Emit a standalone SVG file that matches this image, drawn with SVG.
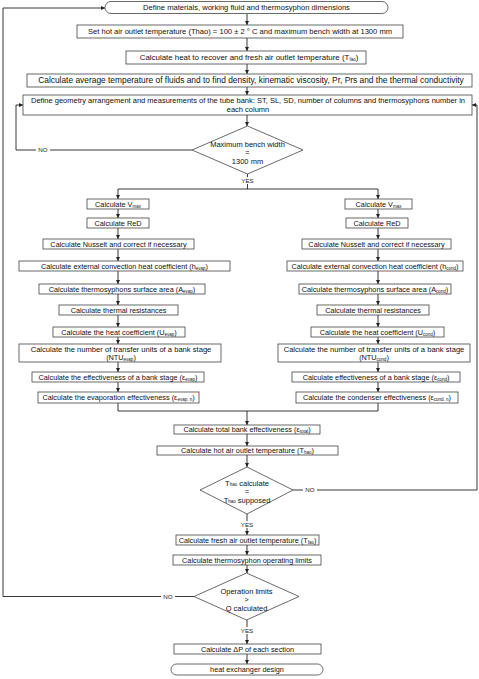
<svg xmlns="http://www.w3.org/2000/svg" width="479" height="679" viewBox="0 0 479 679">
<defs>
<marker id="ah" viewBox="0 0 6 6" refX="6" refY="3" markerWidth="4" markerHeight="4" orient="auto" markerUnits="userSpaceOnUse"><path d="M0,0 L6,3 L0,6 z" fill="#222"/></marker>
</defs>
<style>
.b{fill:#fff;stroke:#444;stroke-width:0.8}
.t{font-family:"Liberation Sans",Arial,sans-serif;font-size:7.3px;fill:#111;text-anchor:middle}
.s{font-size:4.5px}
.c{fill:none;stroke:#222;stroke-width:0.9}
.a{fill:none;stroke:#222;stroke-width:0.9;marker-end:url(#ah)}
.lb{font-family:"Liberation Sans",Arial,sans-serif;font-size:6.2px;fill:#222;text-anchor:middle}
.dt{font-size:7.5px}
</style>
<rect width="479" height="679" fill="#fff"/>
<g id="connectors">
<path class="a" d="M247,14 V25"/>
<path class="a" d="M247,38 V51"/>
<path class="a" d="M247,64 V74"/>
<path class="a" d="M247,87 V95"/>
<path class="a" d="M247,115 V126"/>
<path class="a" d="M192,150 H16 V105 H23"/>
<path class="c" d="M247.5,174 V189 M118,189 H378"/>
<path class="a" d="M118,189 V199"/>
<path class="a" d="M378,189 V199"/>
<path class="a" d="M118,209 V218"/>
<path class="a" d="M118,228 V239"/>
<path class="a" d="M118,249 V261"/>
<path class="a" d="M118,271 V284"/>
<path class="a" d="M118,294 V305"/>
<path class="a" d="M118,315 V327"/>
<path class="a" d="M118,337 V344"/>
<path class="a" d="M118,362 V372"/>
<path class="a" d="M118,382 V392"/>
<path class="a" d="M378,209 V218"/>
<path class="a" d="M378,228 V239"/>
<path class="a" d="M378,249 V261"/>
<path class="a" d="M378,271 V284"/>
<path class="a" d="M378,294 V305"/>
<path class="a" d="M378,315 V327"/>
<path class="a" d="M378,337 V344"/>
<path class="a" d="M378,362 V372"/>
<path class="a" d="M378,382 V392"/>
<path class="c" d="M118,403 V411 H378 V403"/>
<path class="a" d="M247,411 V425"/>
<path class="a" d="M247,434 V446"/>
<path class="a" d="M247,455 V467"/>
<path class="a" d="M293,490 H477 V105 H472"/>
<path class="a" d="M247,514 V535"/>
<path class="a" d="M247,545 V555"/>
<path class="a" d="M247,565 V573"/>
<path class="a" d="M194,596.5 H3 V8 H105"/>
<path class="a" d="M247,620 V644"/>
<path class="a" d="M247,654 V664"/>
<rect x="36" y="146" width="14" height="8" fill="#fff"/>
<text class="lb" x="43" y="152">NO</text>
<rect x="303" y="486" width="14" height="8" fill="#fff"/>
<text class="lb" x="310" y="492">NO</text>
<rect x="161" y="592.5" width="14" height="8" fill="#fff"/>
<text class="lb" x="168" y="598.5">NO</text>
<rect x="239" y="177" width="16" height="7" fill="#fff"/>
<text class="lb" x="247.5" y="183">YES</text>
<rect x="239" y="521" width="16" height="7" fill="#fff"/>
<text class="lb" x="247" y="527">YES</text>
<rect x="239" y="627" width="16" height="7" fill="#fff"/>
<text class="lb" x="247" y="633">YES</text>
</g>
<g id="n1"><rect class="b" x="105" y="1.5" width="283" height="12" rx="6"/><text class="t" x="246.5" y="10.3" style="font-size:7.6px">Define materials, working fluid and thermosyphon dimensions</text></g>
<g id="n2"><rect class="b" x="77" y="25" width="326" height="13"/><text class="t" x="240" y="34.3" style="font-size:7.6px">Set hot air outlet temperature (Thao) = 100 ± 2 ° C and maximum bench width at 1300 mm</text></g>
<g id="n3"><rect class="b" x="126" y="51" width="240" height="13"/><text class="t" x="249" y="60.3" style="font-size:7.9px">Calculate heat to recover and fresh air outlet temperature (T<tspan class="s" dy="0.8">fao</tspan><tspan dy="-0.8">)</tspan></text></g>
<g id="n4"><rect class="b" x="27" y="74" width="445" height="13"/><text class="t" x="251" y="83.3" style="font-size:8.4px">Calculate average temperature of fluids and to find density, kinematic viscosity, Pr, Prs and the thermal conductivity</text></g>
<g id="n5"><rect class="b" x="23" y="95" width="449" height="20"/><text class="t" x="248" y="103.3" style="font-size:7.5px">Define geometry arrangement and measurements of the tube bank: ST, SL, SD, number of columns and thermosyphons number in</text><text class="t" x="248" y="112.3" style="font-size:7.5px">each column</text></g>
<g id="d1"><polygon class="b" points="192,150 247.5,126 303,150 247.5,174"/><text class="t dt" x="247.5" y="146.5">Maximum bench width</text><text class="t dt" x="247.5" y="155">=</text><text class="t dt" x="247.5" y="164">1300 mm</text></g>
<g id="l1"><rect class="b" x="87" y="199" width="62" height="10"/><text class="t" x="118" y="206.7">Calculate V<tspan class="s" dy="0.8">max</tspan></text></g>
<g id="l2"><rect class="b" x="87" y="218" width="62" height="10"/><text class="t" x="118" y="225.7">Calculate ReD</text></g>
<g id="l3"><rect class="b" x="43" y="239" width="151" height="10"/><text class="t" x="118.5" y="246.7">Calculate Nusselt and correct if  necessary</text></g>
<g id="l4"><rect class="b" x="19" y="261" width="211" height="10"/><text class="t" x="124.5" y="268.7">Calculate external convection heat coefficient (h<tspan class="s" dy="0.8">evap</tspan><tspan dy="-0.8">)</tspan></text></g>
<g id="l5"><rect class="b" x="39" y="284" width="166" height="10"/><text class="t" x="122" y="291.7">Calculate thermosyphons surface area (A<tspan class="s" dy="0.8">evap</tspan><tspan dy="-0.8">)</tspan></text></g>
<g id="l6"><rect class="b" x="59" y="305" width="119" height="10"/><text class="t" x="118.5" y="312.7">Calculate thermal resistances</text></g>
<g id="l7"><rect class="b" x="53" y="327" width="132" height="10"/><text class="t" x="119" y="334.7">Calculate the heat coefficient (U<tspan class="s" dy="0.8">evap</tspan><tspan dy="-0.8">)</tspan></text></g>
<g id="l8"><rect class="b" x="19" y="344" width="202" height="18"/><text class="t" x="121" y="351.7" style="font-size:7.6px">Calculate the number of transfer units of a bank stage</text><text class="t" x="121" y="359.7">(NTU<tspan class="s" dy="0.8">evap</tspan><tspan dy="-0.8">)</tspan></text></g>
<g id="l9"><rect class="b" x="32" y="372" width="172" height="10"/><text class="t" x="118" y="379.7">Calculate the effectiveness of a bank stage (ε<tspan class="s" dy="0.8">evap</tspan><tspan dy="-0.8">)</tspan></text></g>
<g id="l10"><rect class="b" x="38" y="392" width="161" height="11"/><text class="t" x="118.5" y="400.2">Calculate the evaporation effectiveness (ε<tspan class="s" dy="0.8">evap. n</tspan><tspan dy="-0.8">)</tspan></text></g>
<g id="r1"><rect class="b" x="345" y="199" width="67" height="10"/><text class="t" x="378.5" y="206.7">Calculate  V<tspan class="s" dy="0.8">max</tspan></text></g>
<g id="r2"><rect class="b" x="346" y="218" width="62" height="10"/><text class="t" x="377" y="225.7">Calculate  ReD</text></g>
<g id="r3"><rect class="b" x="302" y="239" width="149" height="10"/><text class="t" x="376.5" y="246.7">Calculate Nusselt and correct if necessary</text></g>
<g id="r4"><rect class="b" x="287" y="261" width="176" height="10"/><text class="t" x="375" y="268.7">Calculate external convection heat coefficient (h<tspan class="s" dy="0.8">cond</tspan><tspan dy="-0.8">)</tspan></text></g>
<g id="r5"><rect class="b" x="299" y="284" width="152" height="10"/><text class="t" x="375" y="291.7">Calculate thermosyphons surface area (A<tspan class="s" dy="0.8">cond</tspan><tspan dy="-0.8">)</tspan></text></g>
<g id="r6"><rect class="b" x="317" y="305" width="112" height="10"/><text class="t" x="373" y="312.7">Calculate thermal resistances</text></g>
<g id="r7"><rect class="b" x="311" y="327" width="133" height="10"/><text class="t" x="377.5" y="334.7">Calculate the heat coefficient (U<tspan class="s" dy="0.8">cond</tspan><tspan dy="-0.8">)</tspan></text></g>
<g id="r8"><rect class="b" x="278" y="344" width="192" height="18"/><text class="t" x="374" y="351.7" style="font-size:7.6px">Calculate the number of transfer units of a bank stage</text><text class="t" x="374" y="359.7">(NTU<tspan class="s" dy="0.8">cond</tspan><tspan dy="-0.8">)</tspan></text></g>
<g id="r9"><rect class="b" x="292" y="372" width="168" height="10"/><text class="t" x="376" y="379.7">Calculate effectiveness of a bank stage (ε<tspan class="s" dy="0.8">cond</tspan><tspan dy="-0.8">)</tspan></text></g>
<g id="r10"><rect class="b" x="296" y="392" width="162" height="11"/><text class="t" x="377" y="400.2">Calculate the condenser effectiveness (ε<tspan class="s" dy="0.8">cond. n</tspan><tspan dy="-0.8">)</tspan></text></g>
<g id="n6"><rect class="b" x="174" y="425" width="146" height="9"/><text class="t" x="247" y="432.2">Calculate total bank effectiveness (ε<tspan class="s" dy="0.8">total</tspan><tspan dy="-0.8">)</tspan></text></g>
<g id="n7"><rect class="b" x="157" y="446" width="181" height="9"/><text class="t" x="247.5" y="453.2">Calculate hot air outlet temperature (T<tspan class="s" dy="0.8">hao</tspan><tspan dy="-0.8">)</tspan></text></g>
<g id="d2"><polygon class="b" points="200,490 247,467 293,490 247,514"/><text class="t dt" x="247" y="485.5">T<tspan class="s" dy="0.8">hao</tspan><tspan dy="-0.8"> calculate</tspan></text><text class="t dt" x="247" y="494">=</text><text class="t dt" x="247" y="502.5">T<tspan class="s" dy="0.8">hao</tspan><tspan dy="-0.8"> supposed</tspan></text></g>
<g id="n8"><rect class="b" x="176" y="535" width="143" height="10"/><text class="t" x="247.5" y="542.7">Calculate fresh air outlet temperature (T<tspan class="s" dy="0.8">fao</tspan><tspan dy="-0.8">)</tspan></text></g>
<g id="n9"><rect class="b" x="173" y="555" width="148" height="10"/><text class="t" x="247" y="562.7">Calculate thermosyphon operating limits</text></g>
<g id="d3"><polygon class="b" points="194,596.5 246.5,573 299,596.5 246.5,620"/><text class="t dt" x="246.5" y="593.5">Operation limits</text><text class="t dt" x="246.5" y="602">&gt;</text><text class="t dt" x="246.5" y="610.5">Q calculated</text></g>
<g id="n10"><rect class="b" x="174" y="644" width="147" height="10"/><text class="t" x="247.5" y="651.7">Calculate ΔP of each section</text></g>
<g id="n11"><rect class="b" x="171" y="664" width="152" height="11" rx="5.5"/><text class="t" x="247" y="672.3">heat exchanger design</text></g>
</svg>
